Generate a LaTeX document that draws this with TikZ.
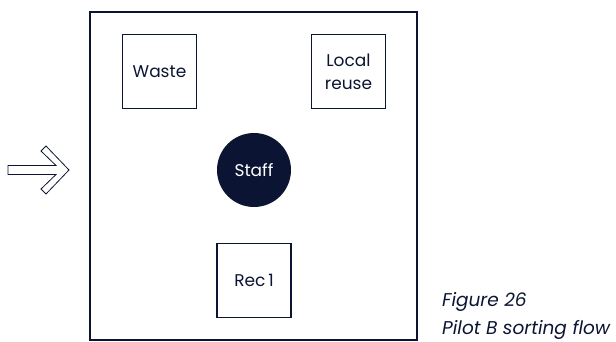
\documentclass[tikz,border=0pt]{standalone}
\usepackage{fontspec}
\setmainfont{Poppins}
\definecolor{navy}{HTML}{0B1533}
\begin{document}
\begin{tikzpicture}[x=1pt,y=-1pt,
  box/.style={draw=navy,line width=1.2pt,minimum width=74pt,minimum height=74pt,inner sep=0pt,text=navy,font=\fontsize{17}{23}\selectfont,align=center},
  staffnode/.style={circle,fill=navy,minimum size=74pt,inner sep=0pt,text=white,font=\fontsize{17}{23}\selectfont},
  frame/.style={draw=navy,line width=1.4pt},
  captext/.style={text=navy,font=\fontsize{18.5}{23}\selectfont\itshape,anchor=base west,inner sep=0pt}]
\useasboundingbox (0,0) rectangle (616,341);
\draw[frame] (90,12) rectangle (417,340);
\node[box] (waste) at (159.5,71.5) {Waste};
\node[box] (reuse) at (348.5,71.5) {Local\\reuse};
\node[staffnode] (staff) at (254,170) {Staff};
\node[box] (rec) at (254,280.5) {Rec\,1};
\draw[navy,line width=0.8pt,line join=miter] (8,165.5) -- (56,165.5) -- (41,151) -- (46,146) -- (69,170) -- (46,194) -- (41,189) -- (56,174.5) -- (8,174.5) -- cycle;
\node[captext] (fig) at (442,306) {Figure 26};
\node[captext] (title) at (442,334) {Pilot B sorting flow};
\end{tikzpicture}
\end{document}
